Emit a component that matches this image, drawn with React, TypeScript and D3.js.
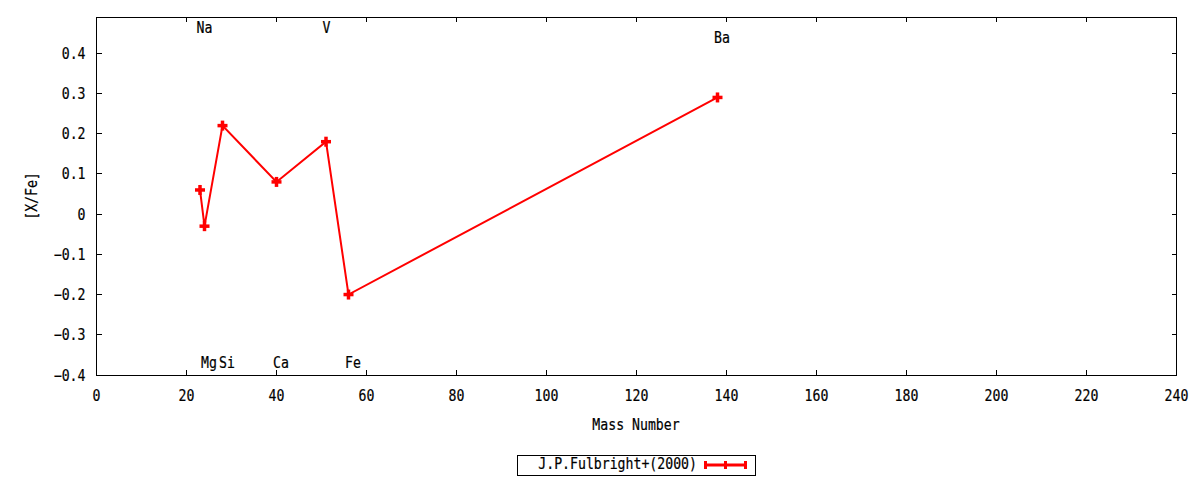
import * as d3 from 'd3';

// abundance data, J.P.Fulbright+(2000)
const ELEMENTS = ['Na', 'Mg', 'Si', 'Ca', 'V', 'Fe', 'Ba'];
const MASS = [23, 24, 28, 40, 51, 56, 138];
const XFE = [0.06, -0.03, 0.22, 0.08, 0.18, -0.2, 0.29];
const LABEL_Y = [0.465, -0.37, -0.37, -0.37, 0.465, -0.37, 0.44];

const X_TICKS = d3.range(0, 241, 20);
const Y_TICKS = [-0.4, -0.3, -0.2, -0.1, 0, 0.1, 0.2, 0.3, 0.4];
const SERIES_NAME = 'J.P.Fulbright+(2000)';

const FONT = '"DejaVu Sans Mono", monospace';
const RED = '#ff0000';

function Txt({ x, y, anchor = 'start', rotate = 0, children }: { x: number; y: number; anchor?: string; rotate?: number; children: any }) {
    return (
        <text
            transform={`translate(${x},${y}) rotate(${rotate}) scale(0.88,1)`}
            textAnchor={anchor}
            fontFamily={FONT}
            fontSize={15}
            fill="#000"
            stroke="#000"
            strokeWidth={0.2}
        >
            {children}
        </text>
    );
}

function Plus({ cx, cy, r = 5 }: { cx: number; cy: number; r?: number }) {
    return (
        <g stroke={RED} strokeWidth={3.5}>
            <line x1={cx - r} x2={cx + r} y1={cy} y2={cy} />
            <line x1={cx} x2={cx} y1={cy - r} y2={cy + r} />
        </g>
    );
}

export default function App() {
    const left = 96.5, right = 1176.5, top = 17, bottom = 375;
    const x = d3.scaleLinear().domain([0, 240]).range([left, right]);
    const y = d3.scaleLinear().domain([-0.4, 0.49]).range([bottom, top]);
    const tick = 5;

    const pts = MASS.map((m, i) => [m, XFE[i]] as [number, number]);
    const line = d3.line<[number, number]>().x(d => x(d[0])).y(d => y(d[1]));

    const fmt = (v: number) => (Math.abs(v) < 1e-9 ? '0' : d3.format('.1f')(v));

    return (
        <svg width={1200} height={480} style={{ position: 'absolute', left: 0, top: 0, background: '#fff' }}>
            <rect x={0} y={0} width={1200} height={480} fill="#fff" />

            {/* ticks, mirrored on all four sides */}
            <g stroke="#000" strokeWidth={1} shapeRendering="crispEdges">
                {X_TICKS.map(t => (
                    <g key={'xt' + t}>
                        <line x1={x(t)} x2={x(t)} y1={bottom} y2={bottom - tick} />
                        <line x1={x(t)} x2={x(t)} y1={top} y2={top + tick} />
                    </g>
                ))}
                {Y_TICKS.map(t => (
                    <g key={'yt' + t}>
                        <line x1={left} x2={left + tick} y1={y(t)} y2={y(t)} />
                        <line x1={right} x2={right - tick} y1={y(t)} y2={y(t)} />
                    </g>
                ))}
                <rect x={left} y={top} width={right - left} height={bottom - top} fill="none" />
            </g>

            {X_TICKS.map(t => (
                <Txt key={'xl' + t} x={x(t)} y={bottom + 26} anchor="middle">{t}</Txt>
            ))}
            {Y_TICKS.map(t => (
                <Txt key={'yl' + t} x={left - 11} y={y(t) + 5.5} anchor="end">{fmt(t)}</Txt>
            ))}

            <Txt x={636} y={430} anchor="middle">Mass Number</Txt>
            <Txt x={37} y={196} anchor="middle" rotate={-90}>[X/Fe]</Txt>

            {/* element labels */}
            {ELEMENTS.map((el, i) => (
                <Txt key={el} x={x(MASS[i]) - 3.5} y={y(LABEL_Y[i]) + 5.5}>{el}</Txt>
            ))}

            {/* series */}
            <path d={line(pts) || ''} fill="none" stroke={RED} strokeWidth={2} />
            {pts.map((p, i) => (
                <Plus key={'p' + i} cx={x(p[0])} cy={y(p[1])} />
            ))}

            {/* legend */}
            <rect x={517.5} y={455.5} width={238} height={20} fill="none" stroke="#000" strokeWidth={1} />
            <Txt x={697} y={469} anchor="end">{SERIES_NAME}</Txt>
            <g stroke={RED} strokeWidth={3}>
                <line x1={704} x2={747} y1={465} y2={465} />
                <line x1={705.5} x2={705.5} y1={461} y2={469} />
                <line x1={725.5} x2={725.5} y1={461} y2={469} />
                <line x1={745.5} x2={745.5} y1={461} y2={469} />
            </g>
        </svg>
    );
}
